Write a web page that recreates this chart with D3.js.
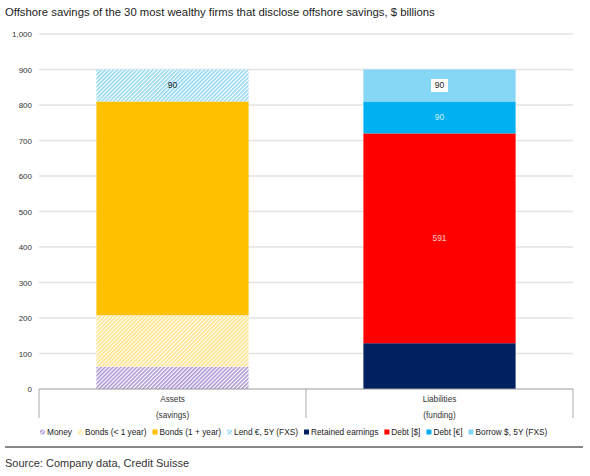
<!DOCTYPE html>
<html><head><meta charset="utf-8">
<script src="https://cdn.jsdelivr.net/npm/d3@7"></script>
<style>body{margin:0;background:#fff;font-family:"Liberation Sans",Arial,sans-serif;}</style>
</head><body><svg id="c" width="590" height="476"></svg>
<script>
const categories = ["Assets|(savings)", "Liabilities|(funding)"];
const seriesNames = ["Money","Bonds (< 1 year)","Bonds (1 + year)","Lend €, 5Y (FXS)","Retained earnings","Debt [$]","Debt [€]","Borrow $, 5Y (FXS)"];
const assetValues = [63, 145, 602, 90, 0, 0, 0, 0];
const liabilityValues = [0, 0, 0, 0, 129, 591, 90, 90];
const yTicks = [0,100,200,300,400,500,600,700,800,900,1000];
const segmentLabels = [[null,null,null,"90",null,null,null,null],[null,null,null,null,null,"591","90","90"]];

const colors = ["#a890d4","#ffe17f","#ffc000","#8dd6f3","#002060","#ff0000","#00b0f0","#86d6f6"];
const hatched = [true,true,false,true,false,false,false,false];

const svg = d3.select("#c");
const defs = svg.append("defs");
colors.forEach((c,i)=>{
  if(!hatched[i]) return;
  const p = defs.append("pattern").attr("id","h"+i).attr("patternUnits","userSpaceOnUse")
    .attr("width",2.8).attr("height",2.8).attr("patternTransform","rotate(45)");
  p.append("rect").attr("width",2.8).attr("height",2.8).attr("fill","#fff");
  p.append("rect").attr("width",1.5).attr("height",2.8).attr("fill",c);
});
const fillOf = i => hatched[i] ? `url(#h${i})` : colors[i];

svg.append("text").attr("x",5).attr("y",16).attr("font-size",11.3).attr("fill","#222")
  .text("Offshore savings of the 30 most wealthy firms that disclose offshore savings, $ billions");

const x = d3.scaleBand().domain(categories).range([39,573]).paddingInner(0.43).paddingOuter(0.215);
const y = d3.scaleLinear().domain([0,1000]).range([389,34]);

// gridlines
svg.append("g").selectAll("line").data(yTicks.filter(d=>d>0)).join("line")
  .attr("x1",39).attr("x2",573).attr("y1",d=>y(d)).attr("y2",d=>y(d))
  .attr("stroke","#e3e3e3").attr("stroke-width",1.3);

// y labels
svg.append("g").selectAll("text").data(yTicks).join("text")
  .attr("x",32).attr("y",d=>y(d)+3).attr("text-anchor","end").attr("font-size",8).attr("fill","#333")
  .text(d=>d3.format(",")(d));

// stacks
const rows = [assetValues, liabilityValues];
rows.forEach((vals,ci)=>{
  let acc = 0;
  vals.forEach((v,si)=>{
    if(!v) return;
    const y0 = acc, y1 = acc+v; acc = y1;
    svg.append("rect").attr("x",x(categories[ci])).attr("width",x.bandwidth())
      .attr("y",y(y1)).attr("height",y(y0)-y(y1)).attr("fill",fillOf(si));
    const lab = segmentLabels[ci][si];
    if(lab){
      const cx = x(categories[ci])+x.bandwidth()/2, cy = y((y0+y1)/2);
      if(si===7){
        svg.append("rect").attr("x",cx-8.5).attr("y",cy-6.5).attr("width",17).attr("height",13).attr("fill","#fff");
      }
      const col = (si===5) ? "#ffc4c4" : (si===6 ? "#cdeefb" : "#222");
      svg.append("text").attr("x",cx).attr("y",cy+3).attr("text-anchor","middle").attr("font-size",8.5)
        .attr("fill",col).text(lab);
    }
  });
});

// x axis
svg.append("line").attr("x1",39).attr("x2",573).attr("y1",389).attr("y2",389).attr("stroke","#999").attr("stroke-width",1);
const bounds = [39,306,573];
svg.append("g").selectAll("line").data(bounds).join("line")
  .attr("x1",d=>d).attr("x2",d=>d).attr("y1",389).attr("y2",418).attr("stroke","#aaa").attr("stroke-width",1);
categories.forEach(c=>{
  const parts = c.split("|");
  const cx = x(c)+x.bandwidth()/2;
  svg.append("text").attr("x",cx).attr("y",402).attr("text-anchor","middle").attr("font-size",8.2).attr("fill","#333").text(parts[0]);
  svg.append("text").attr("x",cx).attr("y",418).attr("text-anchor","middle").attr("font-size",8.2).attr("fill","#333").text(parts[1]);
});

// legend
let lx = 40;
const lg = svg.append("g");
seriesNames.forEach((n,i)=>{
  lg.append("rect").attr("x",lx).attr("y",429.5).attr("width",5).attr("height",5).attr("fill",fillOf(i));
  const t = lg.append("text").attr("x",lx+7).attr("y",435.2).attr("font-size",8.3).attr("fill","#222").text(n);
  lx += 7 + t.node().getComputedTextLength() + 6;
});

// separator & source
svg.append("line").attr("x1",5).attr("x2",583).attr("y1",447).attr("y2",447).attr("stroke","#111").attr("stroke-width",1);
svg.append("text").attr("x",5).attr("y",467).attr("font-size",11).attr("fill","#333").text("Source: Company data, Credit Suisse");
</script></body></html>
